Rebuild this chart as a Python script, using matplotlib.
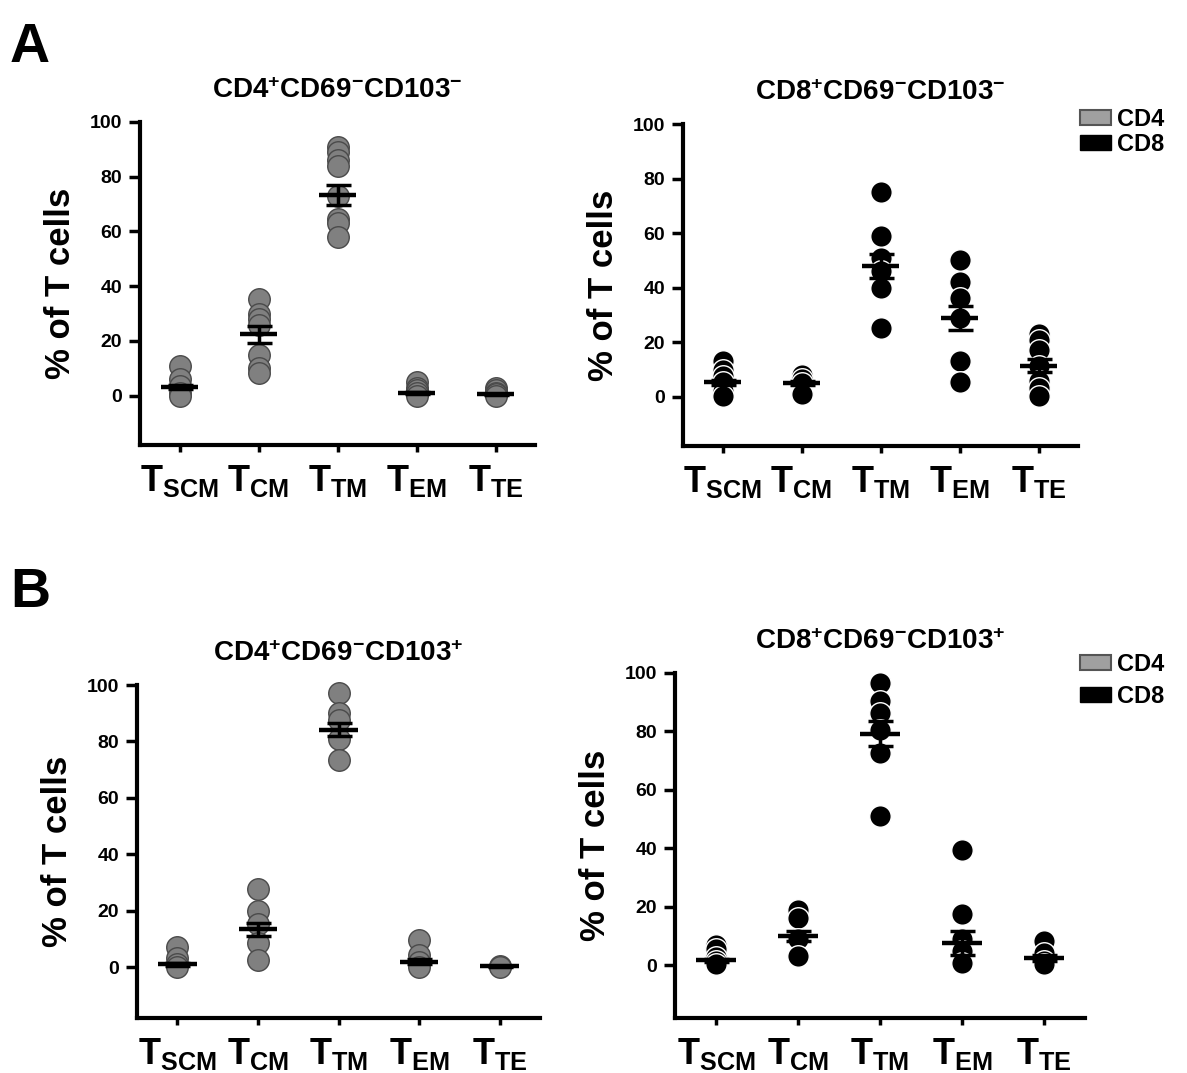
import numpy as np
import matplotlib
matplotlib.use("Agg")
import matplotlib.pyplot as plt
from matplotlib.patches import Patch

plt.rcParams['font.family'] = ['Liberation Sans', 'DejaVu Sans']
plt.rcParams['mathtext.fontset'] = 'custom'
plt.rcParams['mathtext.rm'] = 'Liberation Sans:bold'
plt.rcParams['mathtext.bf'] = 'Liberation Sans:bold'
plt.rcParams['mathtext.it'] = 'Liberation Sans:bold'

subsets = [r'T$_{\mathbf{SCM}}$', r'T$_{\mathbf{CM}}$', r'T$_{\mathbf{TM}}$',
           r'T$_{\mathbf{EM}}$', r'T$_{\mathbf{TE}}$']

# values (% of T cells)
cd4_neg_pts = [[11, 6, 3.4, 1, 0],
               [35.4, 30, 28, 26, 15, 10, 8.3],
               [91, 89, 86, 84, 73, 64.5, 63, 58],
               [5, 3, 2, 1, 0],
               [3, 2, 1, 0.5, 0]]
cd4_neg_mean = [3.1, 22.4, 73.3, 1.0, 0.5]
cd4_neg_sem = [0.8, 3.2, 3.8, 0.5, 0.3]

cd8_neg_pts = [[13, 10, 7.7, 5.3, 2.2, 0.4],
               [8, 6.5, 5, 1.6, 1],
               [75, 59, 51, 46, 40, 25.4],
               [50, 42, 36.4, 29, 13, 5.3],
               [23, 21, 17, 11.4, 6, 3.4, 0.4]]
cd8_neg_mean = [5.3, 5.0, 48.0, 29.0, 11.4]
cd8_neg_sem = [1.0, 0.8, 4.4, 4.4, 2.4]

cd4_pos_pts = [[7, 3.3, 1, 0],
               [27.6, 20, 15.4, 8.7, 2.7],
               [97, 90, 87.5, 81, 73.3],
               [9.8, 4.5, 2, 0],
               [0.4, 0]]
cd4_pos_mean = [1.0, 13.4, 84.2, 2.0, 0.3]
cd4_pos_sem = [0.5, 2.2, 2.3, 0.8, 0.1]

cd8_pos_pts = [[7, 5.5, 3, 1.5, 0.3],
               [19, 16.3, 8.9, 3.2],
               [96.6, 90.3, 86.3, 80.6, 72.7, 51],
               [39.4, 17.4, 8.9, 4.9, 0.9],
               [8.3, 4.3, 1.5, 0.3]]
cd8_pos_mean = [1.7, 10.0, 79.3, 7.5, 2.4]
cd8_pos_sem = [0.5, 1.8, 4.3, 4.1, 1.0]

W, H = 1187, 1073
panels = [
    ([140/W, 1-445/H, 395/W, 323/H], r'CD4$^{+}$CD69$^{-}$CD103$^{-}$',
     cd4_neg_pts, cd4_neg_mean, cd4_neg_sem, '#808080', '#4a4a4a'),
    ([683/W, 1-446/H, 395/W, 322/H], r'CD8$^{+}$CD69$^{-}$CD103$^{-}$',
     cd8_neg_pts, cd8_neg_mean, cd8_neg_sem, 'black', 'white'),
    ([137/W, 1-1018/H, 403/W, 333/H], r'CD4$^{+}$CD69$^{-}$CD103$^{+}$',
     cd4_pos_pts, cd4_pos_mean, cd4_pos_sem, '#808080', '#4a4a4a'),
    ([675/W, 1-1018/H, 410/W, 345/H], r'CD8$^{+}$CD69$^{-}$CD103$^{+}$',
     cd8_pos_pts, cd8_pos_mean, cd8_pos_sem, 'black', 'white'),
]

fig = plt.figure(figsize=(W/100, H/100), dpi=100)

for rect, title, pts, mean, sem, fc, ec in panels:
    ax = fig.add_axes(rect)
    for i, vals in enumerate(pts):
        ax.plot([i]*len(vals), vals, 'o', ms=15.5, mfc=fc, mec=ec, mew=1.0,
                clip_on=False, zorder=3)
    xs = np.arange(len(mean))
    ax.errorbar(xs, mean, yerr=sem, fmt='none', ecolor='black', elinewidth=2.5,
                capsize=9, capthick=2.5, zorder=4)
    ax.hlines(mean, xs-0.24, xs+0.24, colors='black', lw=3.2, zorder=5)
    ax.set_xlim(-0.5, 4.5)
    ax.set_ylim(-18, 100)
    ax.set_yticks([0, 20, 40, 60, 80, 100])
    ax.set_xticks(xs)
    ax.set_xticklabels(subsets, fontsize=26, fontweight='bold')
    for lab in ax.get_yticklabels():
        lab.set_fontweight('bold')
        lab.set_fontsize(14)
    ax.spines['top'].set_visible(False)
    ax.spines['right'].set_visible(False)
    ax.spines['left'].set_linewidth(3)
    ax.spines['bottom'].set_linewidth(3)
    ax.spines['left'].set_bounds(-18, 100)
    ax.tick_params(axis='y', width=2.5, length=8, pad=5)
    ax.tick_params(axis='x', width=2.5, length=5, pad=8)
    ax.set_ylabel('% of T cells', fontsize=25, fontweight='bold', labelpad=9)
    ax.set_title(title, fontsize=20, fontweight='bold', pad=17)

fig.text(10/W, 1-62/H, 'A', fontsize=40, fontweight='bold')
fig.text(10/W, 1-607/H, 'B', fontsize=40, fontweight='bold')

handles = [Patch(facecolor='#a0a0a0', edgecolor='#555555', lw=1.5, label='CD4'),
           Patch(facecolor='black', edgecolor='black', label='CD8')]
for top, spacing in [(108, 0.08), (653, 0.38)]:
    fig.legend(handles=handles, loc='upper left', bbox_to_anchor=(1080/W, 1-top/H),
               frameon=False, prop={'weight': 'bold', 'size': 17},
               handlelength=1.3, handleheight=0.6, handletextpad=0.25,
               labelspacing=spacing, borderaxespad=0, borderpad=0)

fig.savefig('out.png', dpi=100)
